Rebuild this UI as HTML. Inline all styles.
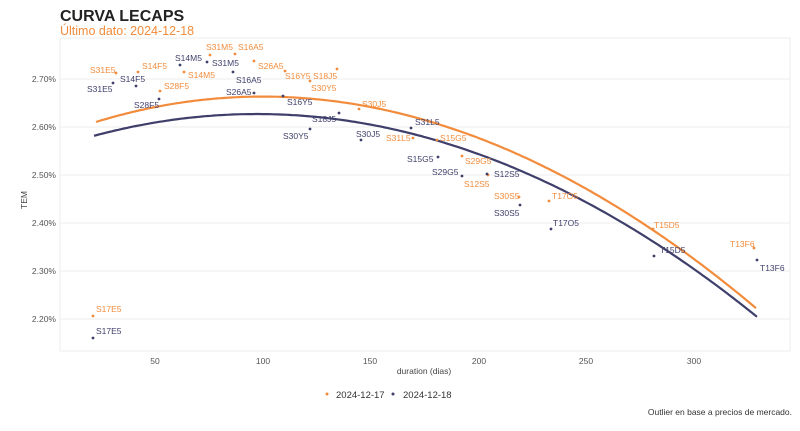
<!DOCTYPE html>
<html><head><meta charset="utf-8"><style>
html,body{margin:0;padding:0;background:#fff;}
svg{display:block;font-family:"Liberation Sans",sans-serif;}
</style></head><body>
<svg id="s" width="800" height="431" viewBox="0 0 800 431" xmlns="http://www.w3.org/2000/svg">
<rect width="800" height="431" fill="#fff"/>
<text x="60" y="21" font-size="16" font-weight="bold" fill="#222">CURVA LECAPS</text>
<text x="60" y="35" font-size="12.5" fill="#f28c3c">Último dato: 2024-12-18</text>
<rect x="60" y="38" width="730" height="313" fill="#fff" stroke="#ececec" stroke-width="1"/>
<g stroke="#ececec" stroke-width="1">
<line x1="60" x2="790" y1="79" y2="79"/><line x1="60" x2="790" y1="127" y2="127"/>
<line x1="60" x2="790" y1="175" y2="175"/><line x1="60" x2="790" y1="223" y2="223"/>
<line x1="60" x2="790" y1="271" y2="271"/><line x1="60" x2="790" y1="319" y2="319"/>
</g>
<g font-size="8.5" fill="#555" text-anchor="end">
<text x="56" y="82">2.70%</text><text x="56" y="130">2.60%</text><text x="56" y="178">2.50%</text>
<text x="56" y="226">2.40%</text><text x="56" y="274">2.30%</text><text x="56" y="322">2.20%</text>
</g>
<g font-size="8.5" fill="#555" text-anchor="middle">
<text x="155" y="364">50</text><text x="263" y="364">100</text><text x="370" y="364">150</text>
<text x="479" y="364">200</text><text x="586" y="364">250</text><text x="694" y="364">300</text>
</g>
<text x="424" y="374" font-size="8.5" fill="#444" text-anchor="middle">duration (dias)</text>
<text transform="translate(27,200) rotate(-90)" font-size="8.5" fill="#444" text-anchor="middle">TEM</text>
<path id="po" fill="none" stroke="#f28c3c" stroke-width="2.2"/>
<path id="pn" fill="none" stroke="#3f3f6b" stroke-width="2.2"/>
<g id="pts"></g>
<circle cx="327" cy="394" r="1.5" fill="#f28c3c"/>
<text x="336" y="398" font-size="9.5" fill="#333">2024-12-17</text>
<circle cx="393" cy="394" r="1.5" fill="#3f3f6b"/>
<text x="403" y="398" font-size="9.5" fill="#333">2024-12-18</text>
<text x="792" y="415" font-size="8.5" fill="#333" text-anchor="end">Outlier en base a precios de mercado.</text>
</svg>
<script>
function fit(p,deg){const n=deg+1;const A=[];for(let i=0;i<n;i++){A.push(new Array(n+1).fill(0));}
for(const [x0,y] of p){const x=(x0-400)/400;for(let i=0;i<n;i++){for(let j=0;j<n;j++)A[i][j]+=Math.pow(x,i+j);A[i][n]+=y*Math.pow(x,i);}}
for(let i=0;i<n;i++){let m=i;for(let k=i+1;k<n;k++)if(Math.abs(A[k][i])>Math.abs(A[m][i]))m=k;[A[i],A[m]]=[A[m],A[i]];
for(let k=0;k<n;k++){if(k===i)continue;const f=A[k][i]/A[i][i];for(let j=i;j<=n;j++)A[k][j]-=f*A[i][j];}}
return A.map((r,i)=>r[n]/r[i]);}
function path(p,x0,x1){const c=fit(p,3);let d="";for(let x=x0;x<=x1;x+=3){const t=(x-400)/400;let y=0;for(let i=0;i<c.length;i++)y+=c[i]*Math.pow(t,i);d+=(d?" L":"M")+x+","+y.toFixed(1);}return d;}
document.getElementById("po").setAttribute("d",path([[96,122],[170,104],[250,97],[340,103],[440,123],[540,165],[640,222],[755,307]],96,756));
document.getElementById("pn").setAttribute("d",path([[94,135],[170,121],[240,115],[340,121],[440,137],[520,172],[640,235],[757,316]],94,758));
const O="#f28c3c",N="#3f3f6b";
const pts=[
[O,116,73,"S31E5",90,70],[O,138,72,"S14F5",142,66],[O,160,91,"S28F5",164,86],[O,184,72,"S14M5",188,75],
[O,210,55,"S31M5",206,47],[O,235,54,"S16A5",238,47],[O,254,61,"S26A5",258,66],[O,285,71,"S16Y5",285,76],
[O,337,69,"S18J5",313,76],[O,310,81,"S30Y5",311,88],[O,359,109,"S30J5",362,104],[O,413,138,"S31L5",386,138],
[O,437,140,"S15G5",440,138],[O,462,156,"S29G5",465,161],[O,488,175,"S12S5",464,184],[O,519,197,"S30S5",494,196],
[O,549,201,"T17O5",552,196],[O,653,229,"T15D5",654,225],[O,754,248,"T13F6",730,244],[O,93,316,"S17E5",96,309],
[N,113,83,"S31E5",87,89],[N,136,86,"S14F5",120,79],[N,159,99,"S28F5",134,105],[N,180,65,"S14M5",175,58],
[N,207,62,"S31M5",212,63],[N,233,72,"S16A5",236,80],[N,254,93,"S26A5",226,92],[N,283,96,"S16Y5",287,102],
[N,339,113,"S18J5",312,119],[N,310,129,"S30Y5",283,136],[N,361,140,"S30J5",356,134],[N,411,128,"S31L5",415,122],
[N,438,157,"S15G5",407,159],[N,462,176,"S29G5",432,172],[N,487,174,"S12S5",494,174],[N,520,205,"S30S5",494,213],
[N,551,229,"T17O5",553,223],[N,654,256,"T15D5",660,250],[N,757,260,"T13F6",760,268],[N,93,338,"S17E5",96,331]];
let h="";for(const p of pts){h+=`<circle cx="${p[1]}" cy="${p[2]}" r="1.4" fill="${p[0]}"/><text x="${p[4]}" y="${p[5]+3}" font-size="8.5" fill="${p[0]}">${p[3]}</text>`;}
document.getElementById("pts").innerHTML=h;
</script>
</body></html>
